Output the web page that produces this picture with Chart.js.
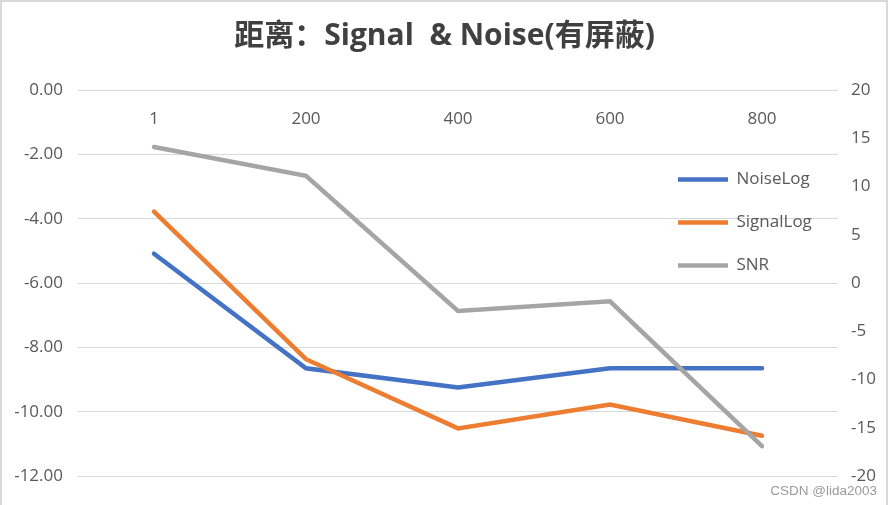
<!DOCTYPE html>
<html>
<head>
<meta charset="utf-8">
<script src="https://cdn.jsdelivr.net/npm/chart.js@4.4.0/dist/chart.umd.min.js"></script>
<style>
  html, body { margin: 0; padding: 0; background: #fff; }
  #wrap { position: relative; width: 889px; height: 505px; }
  #frame { position: absolute; left: 0; top: 0; width: 888px; height: 505px; box-sizing: border-box;
           border: 2px solid #d9d9d9; border-bottom: none; pointer-events: none; }
  #mark { position: absolute; right: 12px; top: 483px; font: 13.5px "Liberation Sans", Arial, sans-serif; color: #9a9a9a; }
</style>
</head>
<body>
<div id="wrap">
  <canvas id="myChart" width="889" height="505"></canvas>
  <div id="frame"></div>
  <div id="mark">CSDN @lida2003</div>
</div>
<script>
// distance categories
const distances = ['1', '200', '400', '600', '800'];
// left axis series
const noiseLog = [-5.09, -8.65, -9.25, -8.65, -8.65];
const signalLog = [-3.78, -8.37, -10.52, -9.78, -10.75];
// right axis series
const snr = [14.1, 11.1, -2.9, -1.9, -16.9];

const leftTicks = [0, -2, -4, -6, -8, -10, -12];
const rightTicks = [20, 15, 10, 5, 0, -5, -10, -15, -20];

const FONT = "'Open Sans', 'Noto Sans CJK SC', sans-serif";
const TXT = '#595959';

// move the legend inside the plot, right side
const legendPlace = {
  id: 'legendPlace',
  afterLayout(chart) {
    const lg = chart.legend;
    const w = lg.width;
    const h = lg.height;
    lg.left = 652;
    lg.right = lg.left + w;
    lg.top = 145;
    lg.bottom = lg.top + h;
  }
};

const ctx = document.getElementById('myChart');
const myChart = new Chart(ctx, {
  type: 'line',
  data: {
    labels: distances,
    datasets: [
      { label: 'NoiseLog', data: noiseLog, yAxisID: 'y', borderColor: '#4472C4', backgroundColor: '#4472C4', order: 3 },
      { label: 'SignalLog', data: signalLog, yAxisID: 'y', borderColor: '#ED7D31', backgroundColor: '#ED7D31', order: 2 },
      { label: 'SNR', data: snr, yAxisID: 'y1', borderColor: '#A5A5A5', backgroundColor: '#A5A5A5', order: 1 }
    ]
  },
  options: {
    responsive: false,
    animation: false,
    layout: { padding: { left: 0, right: 0, top: 0, bottom: 29 } },
    elements: {
      line: { borderWidth: 4.5, tension: 0, borderCapStyle: 'round', fill: false },
      point: { radius: 0, hoverRadius: 0, borderWidth: 4.5 }
    },
    plugins: {
      title: {
        display: true,
        text: '距离：Signal  & Noise(有屏蔽)',
        color: '#404040',
        font: { family: FONT, size: 30, weight: 'bold' },
        padding: { top: 18, bottom: 9 }
      },
      legend: {
        position: 'chartArea',
        align: 'start',
        labels: {
          usePointStyle: true,
          pointStyle: 'line',
          pointStyleWidth: 50,
          padding: 26,
          color: TXT,
          font: { family: FONT, size: 17 },
          sort: (a, b) => a.datasetIndex - b.datasetIndex
        }
      },
      tooltip: { enabled: false }
    },
    scales: {
      x: {
        type: 'category',
        position: 'top',
        offset: true,
        grid: { display: false },
        border: { display: false },
        // mirrored so the labels sit just under the top gridline
        ticks: { color: TXT, font: { family: FONT, size: 17 }, mirror: true, padding: 19,
                 autoSkip: false, maxRotation: 0 },
        afterFit(scale) { scale.height = 27; }
      },
      y: {
        position: 'left',
        min: -12,
        max: 0,
        grid: { color: '#d9d9d9', lineWidth: 1, drawTicks: false },
        border: { display: false },
        afterBuildTicks(scale) { scale.ticks = leftTicks.map(v => ({ value: v })); },
        ticks: { color: TXT, font: { family: FONT, size: 17 }, padding: 15,
                 callback: v => Number(v).toFixed(2) },
        afterFit(scale) { scale.width = 78; }
      },
      y1: {
        position: 'right',
        min: -20,
        max: 20,
        grid: { display: false, drawTicks: false },
        border: { display: false },
        afterBuildTicks(scale) { scale.ticks = rightTicks.map(v => ({ value: v })); },
        ticks: { color: TXT, font: { family: FONT, size: 17 }, padding: 13 },
        afterFit(scale) { scale.width = 51; }
      }
    }
  },
  plugins: [legendPlace]
});
</script>
</body>
</html>
